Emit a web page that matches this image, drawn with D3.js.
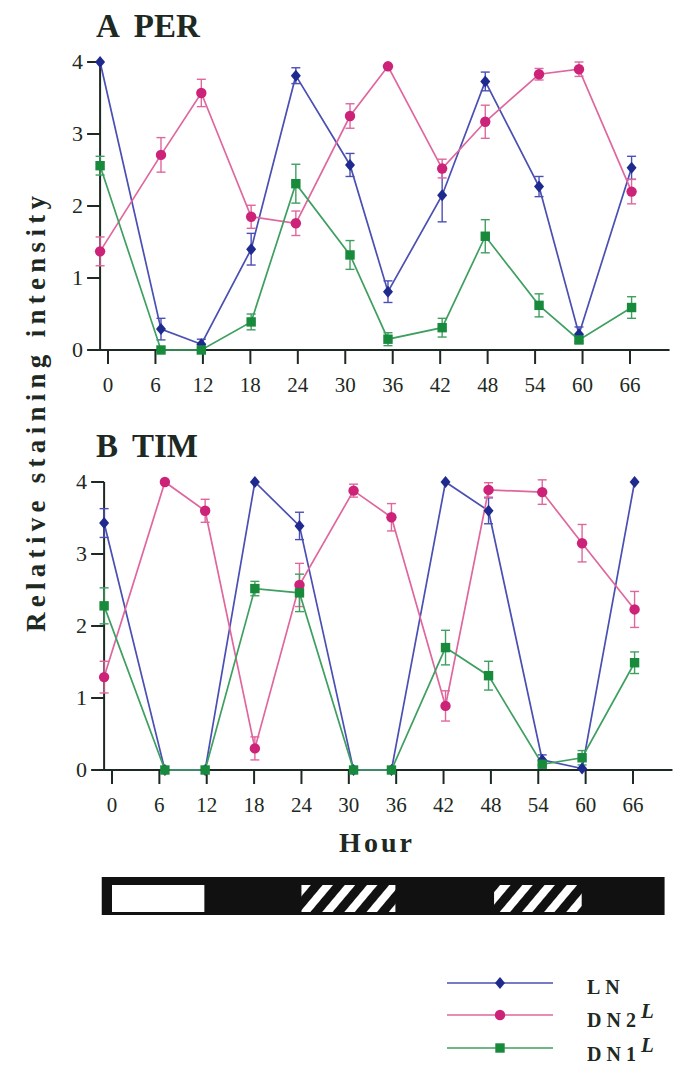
<!DOCTYPE html>
<html>
<head>
<meta charset="utf-8">
<script src="https://cdn.jsdelivr.net/npm/d3@7"></script>
<style>
  body { margin: 0; background: #fff; }
</style>
</head>
<body>
<div id="chart"></div>
<script>
const width = 673,
  height = 1075;

// tick labels (hours) and the hours at which the points are actually plotted
const hours = [0, 6, 12, 18, 24, 30, 36, 42, 48, 54, 60, 66];
const sampleHours = [-1.0, 6.7, 11.8, 18.1, 23.75, 30.6, 35.4, 42.25, 47.7, 54.5, 59.55, 66.2];
const yTicks = [0, 1, 2, 3, 4];

// A PER
const perLN = [4.0, 0.29, 0.08, 1.4, 3.81, 2.57, 0.81, 2.15, 3.73, 2.27, 0.22, 2.53];
const perLNErr = [0, 0.15, 0.07, 0.22, 0.11, 0.16, 0.15, 0.37, 0.13, 0.14, 0.1, 0.16];
const perDN2 = [1.37, 2.71, 3.57, 1.85, 1.76, 3.25, 3.94, 2.52, 3.17, 3.83, 3.9, 2.2];
const perDN2Err = [0.2, 0.24, 0.19, 0.16, 0.17, 0.17, 0, 0.13, 0.23, 0.08, 0.1, 0.17];
const perDN1 = [2.56, 0, 0, 0.39, 2.31, 1.32, 0.15, 0.31, 1.58, 0.62, 0.14, 0.59];
const perDN1Err = [0.13, 0, 0, 0.11, 0.27, 0.2, 0.09, 0.13, 0.23, 0.16, 0.05, 0.15];

// B TIM
const timLN = [3.43, 0, 0, 4.0, 3.39, 0, 0, 4.0, 3.6, 0.14, 0.02, 4.0];
const timLNErr = [0.2, 0, 0, 0, 0.19, 0, 0, 0, 0.18, 0.07, 0, 0];
const timDN2 = [1.29, 4.0, 3.6, 0.3, 2.57, 3.88, 3.51, 0.89, 3.89, 3.86, 3.15, 2.23];
const timDN2Err = [0.22, 0, 0.16, 0.16, 0.3, 0.09, 0.19, 0.21, 0.1, 0.17, 0.26, 0.25];
const timDN1 = [2.28, 0, 0, 2.52, 2.46, 0, 0, 1.7, 1.31, 0.08, 0.17, 1.49];
const timDN1Err = [0.25, 0, 0, 0.1, 0.26, 0, 0, 0.24, 0.2, 0, 0.1, 0.15];

// light regime bar (hours): white = light, hatched = subjective day
const barSpan = [-1.3, 70];
const lightPeriods = [[0, 11.7]];
const subjectiveDays = [[24, 35.9], [48.4, 59.5]];

const seriesNames = ["LN", "DN2", "DN1"];
const lineColors = ["#4a4fb3", "#e0669e", "#3f9f60"];
const markColors = ["#1f2a8e", "#cc2277", "#178a3c"];
const markShapes = ["diamond", "circle", "square"];
const ink = "#1d2922";
const serif = "'Liberation Serif', 'Times New Roman', Times, serif";

const svg = d3.select("#chart").append("svg")
  .attr("width", width)
  .attr("height", height)
  .attr("font-family", serif);

const defs = svg.append("defs");
defs
  .append("pattern")
  .attr("id", "hatch")
  .attr("patternUnits", "userSpaceOnUse")
  .attr("width", 17)
  .attr("height", 17)
  .attr("patternTransform", "rotate(40)")
  .append("rect")
  .attr("width", 8)
  .attr("height", 17)
  .attr("fill", "#fff");

function marker(g, shape, color, cx, cy) {
  if (shape === "diamond") {
    g.append("path")
      .attr("d", `M${cx},${cy - 6}L${cx + 5},${cy}L${cx},${cy + 6}L${cx - 5},${cy}Z`)
      .attr("fill", color);
  } else if (shape === "circle") {
    g.append("circle").attr("cx", cx).attr("cy", cy).attr("r", 5.2).attr("fill", color);
  } else {
    g.append("rect")
      .attr("x", cx - 4.7)
      .attr("y", cy - 4.7)
      .attr("width", 9.4)
      .attr("height", 9.4)
      .attr("fill", color);
  }
}

function panel(title, x, y, series) {
  const g = svg.append("g");

  // axes lines
  g.append("line")
    .attr("x1", x(-2.5)).attr("x2", x(71))
    .attr("y1", y(0)).attr("y2", y(0))
    .attr("stroke", ink).attr("stroke-width", 2);
  g.append("line")
    .attr("x1", x(-1)).attr("x2", x(-1))
    .attr("y1", y(0)).attr("y2", y(4))
    .attr("stroke", ink).attr("stroke-width", 2);

  // y ticks
  g.selectAll(".yt")
    .data(yTicks)
    .join("line")
    .attr("x1", x(-1) - 13).attr("x2", x(-1))
    .attr("y1", d => y(d)).attr("y2", d => y(d))
    .attr("stroke", ink).attr("stroke-width", 2);
  g.selectAll(".yl")
    .data(yTicks)
    .join("text")
    .attr("x", x(-1) - 17)
    .attr("y", d => y(d) + 7)
    .attr("text-anchor", "end")
    .attr("font-size", 22)
    .attr("fill", ink)
    .text(d => d);

  // x ticks
  g.selectAll(".xt")
    .data(hours)
    .join("line")
    .attr("x1", d => x(d)).attr("x2", d => x(d))
    .attr("y1", y(0)).attr("y2", y(0) + 14)
    .attr("stroke", ink).attr("stroke-width", 2);
  g.selectAll(".xl")
    .data(hours)
    .join("text")
    .attr("x", d => x(d))
    .attr("y", y(0) + 42)
    .attr("text-anchor", "middle")
    .attr("font-size", 21)
    .attr("fill", ink)
    .text(d => d);

  // title
  g.append("text")
    .attr("x", 96)
    .attr("y", y(4) - 25)
    .attr("font-size", 33)
    .attr("font-weight", "bold")
    .attr("fill", ink)
    .text(title[0])
    .append("tspan")
    .attr("dx", 14)
    .text(title[1]);

  const line = d3.line().x((d, i) => x(sampleHours[i])).y(d => y(d));

  series.forEach((s, k) => {
    g.append("path")
      .attr("d", line(s.values))
      .attr("fill", "none")
      .attr("stroke", lineColors[k])
      .attr("stroke-width", 1.7);
    s.values.forEach((v, i) => {
      const e = s.errors[i];
      if (!e) return;
      const cx = x(sampleHours[i]);
      const eg = g.append("g").attr("stroke", lineColors[k]).attr("stroke-width", 1.4);
      eg.append("line").attr("x1", cx).attr("x2", cx).attr("y1", y(v - e)).attr("y2", y(v + e));
      [v - e, v + e].forEach(b =>
        eg.append("line").attr("x1", cx - 4.5).attr("x2", cx + 4.5).attr("y1", y(b)).attr("y2", y(b))
      );
    });
  });
  series.forEach((s, k) => {
    s.values.forEach((v, i) => marker(g, markShapes[k], markColors[k], x(sampleHours[i]), y(v)));
  });
}

const xA = d3.scaleLinear().domain([0, 66]).range([108, 630]);
const yA = d3.scaleLinear().domain([0, 4]).range([350, 62]);
const xB = d3.scaleLinear().domain([0, 66]).range([112, 633]);
const yB = d3.scaleLinear().domain([0, 4]).range([770, 482]);

panel(["A", "PER"], xA, yA, [
  { values: perLN, errors: perLNErr },
  { values: perDN2, errors: perDN2Err },
  { values: perDN1, errors: perDN1Err }
]);
panel(["B", "TIM"], xB, yB, [
  { values: timLN, errors: timLNErr },
  { values: timDN2, errors: timDN2Err },
  { values: timDN1, errors: timDN1Err }
]);

// axis labels
svg.append("text")
  .attr("transform", "translate(45,414) rotate(-90)")
  .attr("text-anchor", "middle")
  .attr("font-size", 27)
  .attr("font-weight", "bold")
  .attr("fill", ink)
  .attr("textLength", 436)
  .attr("lengthAdjust", "spacing")
  .text("Relative staining intensity");

svg.append("text")
  .attr("x", 377)
  .attr("y", 852)
  .attr("text-anchor", "middle")
  .attr("font-size", 28)
  .attr("font-weight", "bold")
  .attr("letter-spacing", 3)
  .attr("fill", ink)
  .text("Hour");

// light regime bar
const barTop = 877,
  barBottom = 915;
svg.append("rect")
  .attr("x", xB(barSpan[0]))
  .attr("y", barTop)
  .attr("width", xB(barSpan[1]) - xB(barSpan[0]))
  .attr("height", barBottom - barTop)
  .attr("fill", "#111");
svg.selectAll(".light")
  .data(lightPeriods)
  .join("rect")
  .attr("x", d => xB(d[0]))
  .attr("y", barTop + 8)
  .attr("width", d => xB(d[1]) - xB(d[0]))
  .attr("height", barBottom - barTop - 11)
  .attr("fill", "#fff");
svg.selectAll(".subj")
  .data(subjectiveDays)
  .join("rect")
  .attr("x", d => xB(d[0]))
  .attr("y", barTop + 8)
  .attr("width", d => xB(d[1]) - xB(d[0]))
  .attr("height", barBottom - barTop - 11)
  .attr("fill", "url(#hatch)");

// legend
const legend = svg.append("g");
const legendY = [983, 1015, 1048];
seriesNames.forEach((name, k) => {
  legend.append("line")
    .attr("x1", 447).attr("x2", 553)
    .attr("y1", legendY[k]).attr("y2", legendY[k])
    .attr("stroke", lineColors[k]).attr("stroke-width", 1.4);
  marker(legend, markShapes[k], markColors[k], 500, legendY[k]);
  const t = legend.append("text")
    .attr("x", 587)
    .attr("y", legendY[k] + 11 + k)
    .attr("font-size", 20)
    .attr("font-weight", "bold")
    .attr("letter-spacing", 5)
    .attr("fill", ink)
    .text(name);
  if (k > 0) {
    t.append("tspan")
      .attr("dy", -9)
      .attr("dx", 0)
      .attr("font-style", "italic")
      .attr("font-size", 21)
      .text("L");
  }
});
</script>
</body>
</html>
